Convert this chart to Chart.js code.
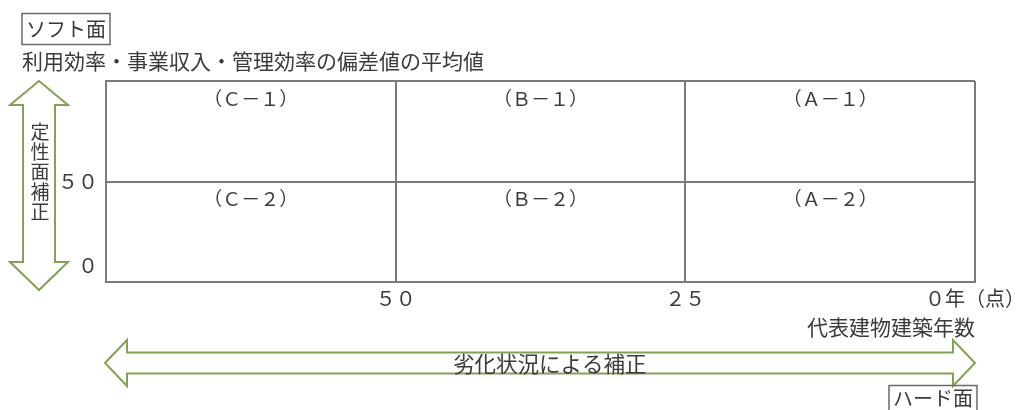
<!DOCTYPE html>
<html lang="ja">
<head>
<meta charset="utf-8">
<title>ソフト面・ハード面</title>
<script src="https://cdn.jsdelivr.net/npm/chart.js@4.4.1/dist/chart.umd.min.js"></script>
<style>
  html, body { margin: 0; padding: 0; background: #fff; }
  #wrap { width: 1025px; height: 410px; }
</style>
</head>
<body>
<div id="wrap"><canvas id="grid" width="1025" height="410"></canvas></div>
<script>
  // axis ranges (years on x, reversed; deviation value on y)
  var xRange = [0, 75];
  var yRange = [-10, 110];

  // tick labels
  var xTicks = [50, 25, 0];
  var xTickLabels = ['５０', '２５', '０年（点）'];
  var yTicks = [0, 50, 110];
  var yTickLabels = ['０', '５０', ''];

  // ranks: column bounds (years) and row tops (deviation)
  var colBounds = [75, 50, 25, 0];
  var colGrades = ['Ｃ', 'Ｂ', 'Ａ'];
  var rowTops = [110, 50];
  var rowGrades = ['１', '２'];

  var FONT = '"Noto Sans CJK JP", "Noto Sans", sans-serif';
  var lineGray = '#7a7a7a';
  var textCol = '#3a3a3a';
  var arrowGreen = '#82a356';

  var cellPoints = [];
  var cellLabels = [];
  rowTops.forEach(function(top, r) {
    colGrades.forEach(function(g, c) {
      cellPoints.push({ x: (colBounds[c] + colBounds[c + 1]) / 2, y: top });
      cellLabels.push('（' + g + '－' + rowGrades[r] + '）');
    });
  });

  function arrowPath(ctx, pts) {
    ctx.beginPath();
    ctx.moveTo(pts[0][0], pts[0][1]);
    for (var i = 1; i < pts.length; i++) ctx.lineTo(pts[i][0], pts[i][1]);
    ctx.closePath();
    ctx.fillStyle = '#fff';
    ctx.fill();
    ctx.strokeStyle = arrowGreen;
    ctx.lineWidth = 2;
    ctx.stroke();
  }

  var decorations = {
    id: 'decorations',
    beforeDraw: function(chart) {
      var ctx = chart.ctx;
      ctx.save();
      ctx.fillStyle = '#fff';
      ctx.fillRect(0, 0, chart.width, chart.height);
      ctx.restore();
    },
    afterDraw: function(chart) {
      var ctx = chart.ctx;
      var area = chart.chartArea;
      ctx.save();
      ctx.fillStyle = textCol;
      ctx.textBaseline = 'middle';

      // boxed heading top left
      ctx.font = '20px ' + FONT;
      ctx.textAlign = 'left';
      ctx.fillText('ソフト面', 26, 29);
      ctx.strokeStyle = '#6a6a6a';
      ctx.lineWidth = 1.5;
      ctx.strokeRect(22, 13.5, 88, 31);

      ctx.font = '21px ' + FONT;
      ctx.fillText('利用効率・事業収入・管理効率の偏差値の平均値', 22, 61);

      // vertical double arrow
      var cx = 39, sw = 16, hw = 29;
      var t0 = area.top, t1 = area.top + 24, b1 = area.bottom - 20, b0 = area.bottom + 8;
      arrowPath(ctx, [
        [cx, t0], [cx + hw, t1], [cx + sw, t1], [cx + sw, b1], [cx + hw, b1],
        [cx, b0], [cx - hw, b1], [cx - sw, b1], [cx - sw, t1], [cx - hw, t1]
      ]);
      ctx.fillStyle = textCol;
      ctx.font = '19px ' + FONT;
      ctx.textAlign = 'center';
      var vText = '定性面補正';
      for (var i = 0; i < vText.length; i++) {
        ctx.fillText(vText[i], cx + 1, 132 + i * 20);
      }

      // x axis caption
      ctx.font = '21px ' + FONT;
      ctx.textAlign = 'right';
      ctx.fillText('代表建物建築年数', area.right, 327);

      // horizontal double arrow
      var cy = 363, ssh = 10.5, hh = 23;
      var l0 = area.left - 1, l1 = area.left + 21, r1 = area.right - 22, r0 = area.right;
      arrowPath(ctx, [
        [l0, cy], [l1, cy - hh], [l1, cy - ssh], [r1, cy - ssh], [r1, cy - hh],
        [r0, cy], [r1, cy + hh], [r1, cy + ssh], [l1, cy + ssh], [l1, cy + hh]
      ]);
      ctx.fillStyle = textCol;
      ctx.font = '21.5px ' + FONT;
      ctx.textAlign = 'left';
      ctx.fillText('劣化状況による補正', 453, 364);

      // boxed heading bottom right
      ctx.font = '20px ' + FONT;
      ctx.fillText('ハード面', 893, 398);
      ctx.strokeStyle = '#6a6a6a';
      ctx.lineWidth = 1.5;
      ctx.strokeRect(889, 385.5, 88, 30);

      ctx.restore();
    },
    afterDatasetsDraw: function(chart) {
      var ctx = chart.ctx;
      var meta = chart.getDatasetMeta(0);
      ctx.save();
      ctx.fillStyle = textCol;
      ctx.font = '19px ' + FONT;
      ctx.textAlign = 'center';
      ctx.textBaseline = 'top';
      meta.data.forEach(function(pt, i) {
        ctx.fillText(cellLabels[i], pt.x, pt.y + 8);
      });
      ctx.restore();
    }
  };

  new Chart(document.getElementById('grid'), {
    type: 'scatter',
    data: {
      datasets: [{
        data: cellPoints,
        pointRadius: 0,
        pointHoverRadius: 0
      }]
    },
    options: {
      responsive: false,
      animation: false,
      events: [],
      layout: { padding: { top: 81, right: 50, bottom: 98, left: 0 } },
      plugins: {
        legend: { display: false },
        tooltip: { enabled: false }
      },
      scales: {
        x: {
          type: 'linear',
          min: xRange[0],
          max: xRange[1],
          reverse: true,
          afterBuildTicks: function(scale) {
            scale.ticks = xTicks.map(function(v) { return { value: v }; });
          },
          afterFit: function(scale) {
            scale.height = 30;
            scale.paddingLeft = 0;
            scale.paddingRight = 0;
          },
          grid: { color: lineGray, lineWidth: 2, drawTicks: false },
          border: { display: true, color: lineGray, width: 2 },
          ticks: {
            padding: 4,
            color: textCol,
            font: { family: FONT, size: 20 },
            maxRotation: 0,
            autoSkip: false,
            callback: function(v, i) { return xTickLabels[i]; }
          }
        },
        y: {
          type: 'linear',
          min: yRange[0],
          max: yRange[1],
          afterBuildTicks: function(scale) {
            scale.ticks = yTicks.map(function(v) { return { value: v }; });
          },
          afterFit: function(scale) { scale.width = 106; },
          grid: {
            drawTicks: false,
            lineWidth: 2,
            color: function(c) {
              return c.tick && c.tick.value === 0 ? 'rgba(0,0,0,0)' : lineGray;
            }
          },
          border: { display: true, color: lineGray, width: 2 },
          ticks: {
            padding: 8,
            color: textCol,
            font: { family: FONT, size: 20 },
            autoSkip: false,
            callback: function(v, i) { return yTickLabels[i]; }
          }
        }
      }
    },
    plugins: [decorations]
  });
</script>
</body>
</html>
